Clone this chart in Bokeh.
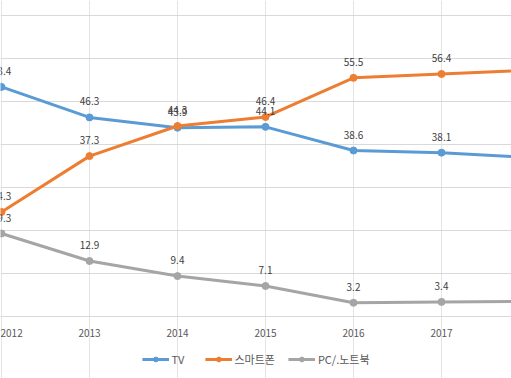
from bokeh.plotting import figure
from bokeh.models import FixedTicker, Grid, Legend, LegendItem, Range1d, LinearAxis
from bokeh.core.properties import value
from bokeh.embed import file_html
from bokeh.resources import INLINE

# ---- data ----
years = [2012, 2013, 2014, 2015, 2016, 2017, 2018]
tv = [53.4, 46.3, 43.9, 44.1, 38.6, 38.1, 37.0]
smartphone = [24.3, 37.3, 44.3, 46.4, 55.5, 56.4, 57.3]
pc_notebook = [19.3, 12.9, 9.4, 7.1, 3.2, 3.4, 3.5]
series_names = ["TV", "스마트폰", "PC/.노트북"]
grid_ticks = [0, 10, 20, 30, 40, 50, 60, 70]

# ---- style ----
FONT = "Noto Sans CJK KR"
colors = ["#5B9BD5", "#ED7D31", "#A5A5A5"]
W, H = 511, 378
AXIS_Y = 316          # pixel row of the value 0
PX_PER_YEAR = 88.0
PX_PER_UNIT = 4.3
x_start = 2012 - 1.0 / PX_PER_YEAR
x_end = x_start + W / PX_PER_YEAR
y_end = AXIS_Y / PX_PER_UNIT
y_start = -(H - AXIS_Y) / PX_PER_UNIT

p = figure(width=W, height=H,
           x_range=Range1d(x_start, x_end), y_range=Range1d(y_start, y_end),
           output_backend="svg", toolbar_location=None,
           x_axis_location=None, y_axis_location=None,
           min_border_left=0, min_border_right=0, min_border_top=0, min_border_bottom=0)
p.outline_line_color = None
p.background_fill_color = "white"
p.border_fill_color = "white"
p.add_layout(Grid(dimension=1, ticker=FixedTicker(ticks=grid_ticks),
                  grid_line_color="#D9D9D9", grid_line_width=1))

xa = LinearAxis(ticker=FixedTicker(ticks=years), fixed_location=0)
xa.axis_line_color = "#D9D9D9"
xa.major_tick_line_color = None
xa.minor_tick_line_color = None
xa.major_label_standoff = 6
xa.major_label_text_font = FONT
xa.major_label_text_font_size = "10px"
xa.major_label_text_color = "#595959"
p.add_layout(xa, "below")

items = []
all_series = [tv, smartphone, pc_notebook]
for name, vals, c in zip(series_names, all_series, colors):
    lr = p.line(years, vals, line_color=c, line_width=3)
    sr = p.scatter(years, vals, size=7, fill_color=c, line_color=c)
    items.append(LegendItem(label=name, renderers=[lr, sr]))

for vals in all_series:
    p.text(x=years, y=vals, text=[f"{v:.1f}" for v in vals],
           text_align="center", text_baseline="middle", y_offset=-16,
           text_font=value(FONT), text_font_size="10px", text_color="#404040")

legend = Legend(items=items, orientation="horizontal", location="bottom_center",
                border_line_color=None, background_fill_alpha=0,
                glyph_width=27, glyph_height=12, label_height=12,
                label_standoff=3, spacing=13, padding=2, margin=11,
                label_text_font=FONT, label_text_font_size="11px",
                label_text_color="#595959")
p.add_layout(legend)

open("out.html", "w").write(file_html(p, INLINE))
